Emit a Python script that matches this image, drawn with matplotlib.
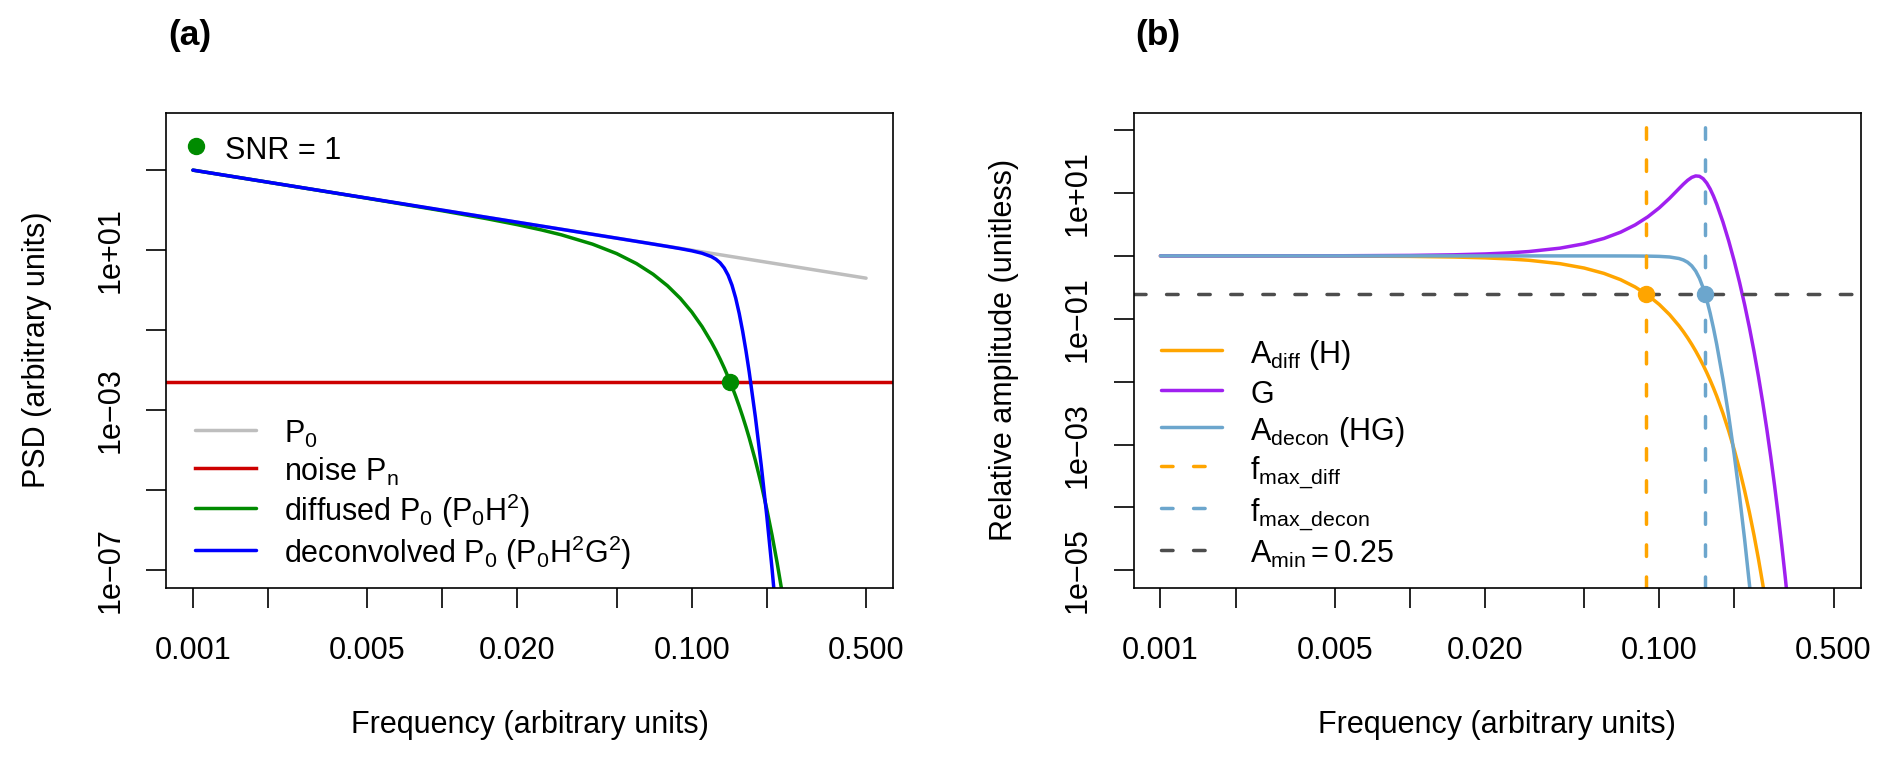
import matplotlib
matplotlib.use('Agg')
import matplotlib.pyplot as plt

plt.rcParams['font.family'] = ['Liberation Sans', 'DejaVu Sans']
plt.rcParams['mathtext.fontset'] = 'custom'
plt.rcParams['mathtext.rm'] = 'Liberation Sans'
plt.rcParams['mathtext.it'] = 'Liberation Sans:italic'
plt.rcParams['mathtext.bf'] = 'Liberation Sans:bold'
plt.rcParams['lines.scale_dashes'] = False

# frequency grid (arbitrary units)
freq = [0.001, 0.002, 0.005, 0.01, 0.015, 0.02, 0.025, 0.03, 0.04, 0.05,
        0.06, 0.07, 0.08, 0.09, 0.10, 0.11, 0.12, 0.125, 0.13, 0.135,
        0.14, 0.145, 0.15, 0.155, 0.16, 0.165, 0.17, 0.18, 0.19, 0.20,
        0.21, 0.22, 0.23, 0.24, 0.25, 0.26, 0.27, 0.28, 0.29, 0.30,
        0.31, 0.32, 0.33]

# panel (a): PSD
p0_freq = [0.001, 0.5]
p0_psd = [1000, 2]
noise_psd = 0.005
psd_diffused = [999.6, 499.3, 198.2, 96.51, 61.55, 43.38, 32.03, 24.21, 14.16, 8.227,
                4.638, 2.505, 1.2863, 0.6250, 0.28638, 0.12347, 0.049983, 0.031051, 0.018980, 0.011415,
                0.0067527, 0.0039299, 0.0022494, 0.0012661, 7.0094e-4, 3.8156e-4, 2.0424e-4, 5.5623e-5, 1.4154e-5, 3.3633e-6,
                7.4633e-7, 1.5461e-7, 2.9890e-8, 5.3932e-9]
psd_decon = [1000.0, 500.0, 200.0, 99.99, 66.66, 49.99, 39.99, 33.32, 24.98, 19.98,
             16.63, 14.23, 12.40, 10.94, 9.660, 8.397, 6.887, 5.935, 4.819, 3.582,
             2.358, 1.336, 0.6419, 0.2634, 0.09448, 0.03047, 0.009059, 6.726e-4, 4.194e-5, 2.259e-6,
             1.061e-7, 4.35e-9]
snr_freq = 0.1428

# panel (b): relative amplitude
amp_diff = [0.9998, 0.9993, 0.9956, 0.9824, 0.9608, 0.9314, 0.8949, 0.8522, 0.7526, 0.6414,
            0.5275, 0.4187, 0.3208, 0.2372, 0.1692, 0.1165, 0.07745, 0.06230, 0.04967, 0.03926,
            0.03075, 0.02387, 0.01837, 0.01401, 0.01059, 0.007935, 0.005892, 0.003164, 0.001640, 8.202e-4,
            3.959e-4, 1.844e-4, 8.292e-5, 3.598e-5, 1.507e-5, 6.089e-6, 2.375e-6]
amp_g = [1.0002, 1.0007, 1.0044, 1.0179, 1.0407, 1.0735, 1.1172, 1.1731, 1.3282, 1.5582,
         1.8936, 2.3833, 3.1053, 4.1829, 5.8077, 8.2468, 11.738, 13.825, 15.934, 17.715,
         18.687, 18.436, 16.892, 14.424, 11.610, 8.9357, 6.6601, 3.4773, 1.7214, 0.81961,
         0.37699, 0.16766, 0.072098, 0.029979, 0.012052, 0.0046835, 0.0017589, 6.3842e-4, 2.2392e-4, 7.5893e-5,
         2.4849e-5, 7.8606e-6, 2.4021e-6]
amp_decon = [1.0, 0.99999, 0.99998, 0.99995, 0.99992, 0.99989, 0.99984, 0.99979, 0.99965, 0.99939,
             0.99892, 0.99801, 0.99613, 0.99206, 0.98284, 0.96108, 0.90906, 0.86131, 0.79149, 0.69540,
             0.57457, 0.44008, 0.31029, 0.20206, 0.12295, 0.070901, 0.039244, 0.011003, 0.0028229, 6.7221e-4,
             1.4924e-4, 3.092e-5, 5.978e-6, 1.0786e-6]
a_min = 0.25
fmax_diff = 0.0883
fmax_decon = 0.1526

# axis ticks
xticks = [0.001, 0.002, 0.005, 0.01, 0.02, 0.05, 0.1, 0.2, 0.5]
xticklabels = ['0.001', '', '0.005', '', '0.020', '', '0.100', '', '0.500']
yticks_a = [1e3, 1e1, 1e-1, 1e-3, 1e-5, 1e-7]
yticklabels_a = ['', '1e+01', '', '1e\u221203', '', '1e\u221207']
yticks_b = [1e2, 1e1, 1e0, 1e-1, 1e-2, 1e-3, 1e-4, 1e-5]
yticklabels_b = ['', '1e+01', '', '1e\u221201', '', '1e\u221203', '', '1e\u221205']

GRAY = '#BEBEBE'
RED = '#CD0000'
GREEN = '#008B00'
BLUE = '#0000FF'
ORANGE = '#FFA500'
PURPLE = '#A020F0'
SKY = '#6CA6CD'
DGRAY = '#4D4D4D'

FS = 22
LW = 2.5
DASH = (8.3, 14.8)

fig = plt.figure(figsize=(18.92, 7.62), dpi=100)
W, H = 1892, 762
ax1 = fig.add_axes([166 / W, 1 - 588 / H, 727 / W, 475.5 / H])
ax2 = fig.add_axes([1133.5 / W, 1 - 588 / H, 727 / W, 475.5 / H])


def style(ax, yticks, yticklabels, ylim, ylabel):
    ax.set_xscale('log')
    ax.set_yscale('log')
    ax.set_xlim(10 ** -3.108, 10 ** -0.193)
    ax.set_ylim(*ylim)
    ax.minorticks_off()
    ax.set_xticks(xticks)
    ax.set_xticklabels(xticklabels)
    ax.set_yticks(yticks)
    ax.set_yticklabels(yticklabels)
    ax.tick_params(axis='both', direction='out', length=14.4, width=1.2, labelsize=FS)
    ax.tick_params(axis='x', pad=20)
    ax.tick_params(axis='y', pad=15, labelrotation=90)
    for lab in ax.get_yticklabels():
        lab.set_va('center')
    for sp in ax.spines.values():
        sp.set_linewidth(1.2)
    ax.set_xlabel('Frequency (arbitrary units)', fontsize=FS, va='center')
    ax.xaxis.set_label_coords(0.5, -0.288)
    ax.set_ylabel(ylabel, fontsize=FS, va='center')
    ax.yaxis.set_label_coords(-0.178, 0.5)


# ---- panel (a)
ax1.plot(p0_freq, p0_psd, color=GRAY, lw=LW, solid_capstyle='round', label=r'$\mathregular{P_0}$')
ax1.axhline(noise_psd, color=RED, lw=LW, label=r'noise $\mathregular{P_n}$')
ax1.plot(freq[:len(psd_diffused)], psd_diffused, color=GREEN, lw=LW, solid_capstyle='round',
         label=r'diffused $\mathregular{P_0\ (P_0H^2)}$')
ax1.plot(freq[:len(psd_decon)], psd_decon, color=BLUE, lw=LW, solid_capstyle='round',
         label=r'deconvolved $\mathregular{P_0\ (P_0H^2G^2)}$')
snr_pt, = ax1.plot([snr_freq], [noise_psd], 'o', color=GREEN, markersize=11.5, label='SNR = 1')
style(ax1, yticks_a, yticklabels_a, (10 ** -7.44, 10 ** 4.44), 'PSD (arbitrary units)')

h, l = ax1.get_legend_handles_labels()
leg_a = ax1.legend(h[:4], l[:4], loc='upper left', bbox_to_anchor=(0.04, 0.36),
                   frameon=False, fontsize=FS, handlelength=2.0, handletextpad=0.92,
                   handleheight=1.25, labelspacing=0.13, borderpad=0, borderaxespad=0)
ax1.add_artist(leg_a)
ax1.legend([snr_pt], ['SNR = 1'], loc='upper left', bbox_to_anchor=(0.02, 0.9575),
           frameon=False, fontsize=FS, handlelength=1.0, handletextpad=0.47,
           handleheight=1.25, borderpad=0, borderaxespad=0)

# ---- panel (b)
ax2.plot(freq[:len(amp_diff)], amp_diff, color=ORANGE, lw=LW, solid_capstyle='round',
         label=r'$\mathregular{A_{diff}\ (H)}$')
ax2.plot(freq[:len(amp_g)], amp_g, color=PURPLE, lw=LW, solid_capstyle='round', label='G')
ax2.plot(freq[:len(amp_decon)], amp_decon, color=SKY, lw=LW, solid_capstyle='round',
         label=r'$\mathregular{A_{decon}\ (HG)}$')
ax2.axvline(fmax_diff, color=ORANGE, lw=LW, dashes=DASH, dash_capstyle='round',
            label=r'$\mathregular{f_{max\_diff}}$')
ax2.axvline(fmax_decon, color=SKY, lw=LW, dashes=DASH, dash_capstyle='round',
            label=r'$\mathregular{f_{max\_decon}}$')
ax2.axhline(a_min, color=DGRAY, lw=LW, dashes=DASH, dash_capstyle='round',
            label=r'$\mathregular{A_{min} = 0.25}$')
ax2.plot([fmax_diff], [a_min], 'o', color=ORANGE, markersize=11.5)
ax2.plot([fmax_decon], [a_min], 'o', color=SKY, markersize=11.5)
style(ax2, yticks_b, yticklabels_b, (10 ** -5.28, 10 ** 2.28), 'Relative amplitude (unitless)')

ax2.legend(loc='upper left', bbox_to_anchor=(0.038, 0.528),
           frameon=False, fontsize=FS, handlelength=2.0, handletextpad=0.92,
           handleheight=1.25, labelspacing=0.13, borderpad=0, borderaxespad=0)

fig.text(190 / W, 1 - 36 / H, '(a)', ha='center', va='center', fontsize=25.5, fontweight='bold')
fig.text(1157.5 / W, 1 - 36 / H, '(b)', ha='center', va='center', fontsize=25.5, fontweight='bold')

fig.savefig('out.png', dpi=100)
